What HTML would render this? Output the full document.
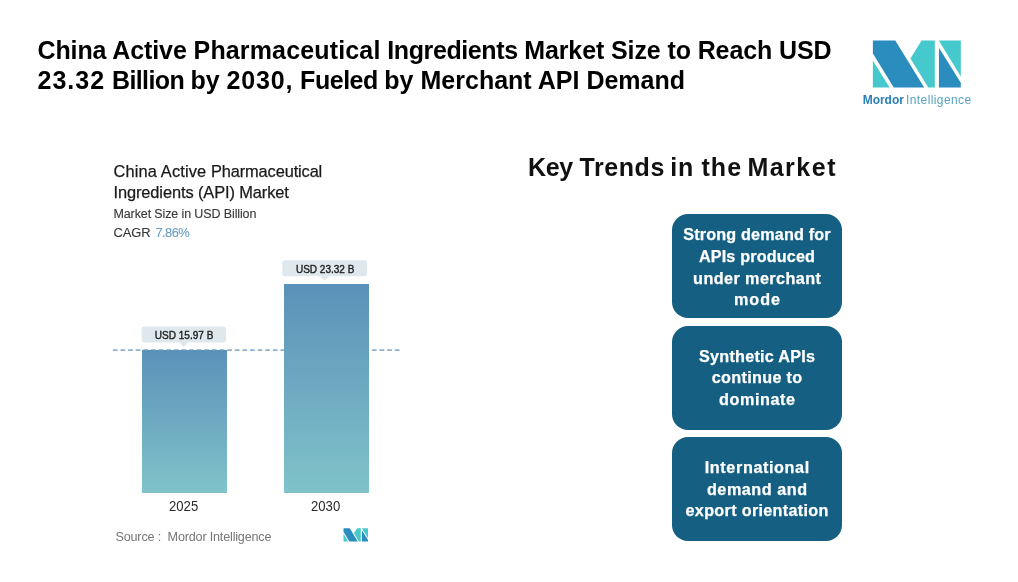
<!DOCTYPE html>
<html lang="en">
<head>
<meta charset="utf-8">
<title>China Active Pharmaceutical Ingredients Market</title>
<style>
  html, body { margin: 0; padding: 0; }
  body {
    width: 1018px; height: 582px; overflow: hidden; position: relative;
    background: #ffffff;
    font-family: "Liberation Sans", sans-serif;
  }
  .abs { position: absolute; white-space: nowrap; line-height: 1; }
  .title { left: 37.5px; font-size: 25px; font-weight: bold; color: #000; }
  .ct { left: 113.5px; font-size: 16.4px; color: #1a1a1a; -webkit-text-stroke: 0.25px #1a1a1a; }
  .sub { left: 113.5px; font-size: 12.5px; color: #383838; -webkit-text-stroke: 0.12px #383838; }
  .key { font-size: 25px; font-weight: bold; color: #111; width: 310px; height: 25px; }
  .key span { position: absolute; top: 0; }
  .box {
    position: absolute; left: 672px; width: 170px; height: 104px;
    background: #156082; border-radius: 16px;
  }
  .box span {
    position: absolute; left: 0; width: 170px; text-align: center;
    color: #fff; -webkit-text-stroke: 0.25px #fff; font-weight: bold; font-size: 16.2px; letter-spacing: 0.15px; line-height: 1; white-space: nowrap;
  }
  .bar { position: absolute; background: linear-gradient(to bottom, #5b91b9 0%, #80c3ca 100%); }
  .lbl { position: absolute; }
  .lbl span {
    position: absolute; left: 0.8px; right: 0; top: 3.9px; text-align: center;
    font-size: 11.4px; font-weight: normal; color: #1c1c1c; -webkit-text-stroke: 0.4px #1c1c1c;
    line-height: 1; white-space: nowrap; transform: scaleX(0.88); transform-origin: 50% 50%;
  }
    .yr { font-size: 14.5px; color: #2a2a2a; transform: scaleX(0.905); transform-origin: 0 50%; }
  .src { font-size: 12.6px; color: #767676; }
</style>
</head>
<body>

<!-- Title -->
<div class="abs title" id="t1" style="top:38px;letter-spacing:-0.107px;">China Active <span style="letter-spacing:0.15px;">Pharmaceutical</span> <span style="letter-spacing:-0.4px;">Ingredients </span>Market Size to Reach USD</div>
<div class="abs title" id="t2" style="top:67.5px;letter-spacing:0.01px;"><span style="letter-spacing:1px;">23.32</span> <span style="letter-spacing:-0.62px;">Billion </span>by <span style="letter-spacing:0.8px;">2030,</span> <span style="letter-spacing:-0.47px;">Fueled </span>by Merchant API Demand</div>

<!-- Logo -->
<svg class="abs" id="logo" style="left:872px;top:40px;" width="90" height="49"><g transform="translate(0.90,0.50) scale(0.10317,0.10352) translate(-68,-65)">
  <polygon points="68,65 285,65 565,520 270,520 68,190" fill="#2b8cbe"/>
  <polygon points="68,260 230,520 68,520" fill="#45c9cd"/>
  <polygon points="540,65 668,65 668,520 605,520 432,240" fill="#45c9cd"/>
  <polygon points="708,134 920,474 920,520 708,520" fill="#2b8cbe"/>
  <polygon points="706,65 920,65 920,412" fill="#45c9cd"/>
</g></svg>
<div class="abs" id="logot" style="left:862.7px;top:93.7px;font-size:12px;letter-spacing:0.3px;word-spacing:-1.5px;"><b style="color:#2a7fb5;letter-spacing:-0.02px;">Mordor</b> <span style="color:#5aa2c4;letter-spacing:0.4px;">Intelligence</span></div>

<!-- Chart header -->
<div class="abs ct" id="c1" style="top:162.9px;"><span style="letter-spacing:0.14px;">China Active </span><span style="letter-spacing:-0.13px;">Pharmaceutical</span></div>
<div class="abs ct" id="c2" style="top:183.6px;letter-spacing:-0.1px;">Ingredients (API) Market</div>
<div class="abs sub" id="c3" style="top:207.8px;letter-spacing:-0.12px;">Market Size in USD Billion</div>
<div class="abs sub" id="c4" style="top:226.8px;font-size:12.9px;letter-spacing:-0.1px;">CAGR <span id="c4b" style="color:#6a9fc3;-webkit-text-stroke:0.1px #6a9fc3;margin-left:1.6px;letter-spacing:-0.55px;">7.86%</span></div>

<!-- Chart -->
<svg class="abs" style="left:112px;top:348px;" width="290" height="4"><line x1="0.9" y1="2.1" x2="288" y2="2.1" stroke="#8fb1cd" stroke-width="1.6" stroke-dasharray="4.7 2.918"/></svg>
<div class="bar" id="bar2" style="left:283.8px;top:284.2px;width:85.2px;height:208.5px;"></div>
<div class="bar" id="bar1" style="left:142px;top:350px;width:85px;height:142.7px;"></div>
<svg class="abs" style="left:142px;top:348px;" width="85" height="4"><line x1="-29.1" y1="2.2" x2="85" y2="2.2" stroke="#6fa0c4" stroke-width="1" stroke-dasharray="4.7 2.918" opacity="0.7"/></svg>

<div class="lbl" id="l1" style="left:141px;top:326px;width:85.0px;height:16.2px;"><svg width="87" height="23" style="position:absolute;left:0;top:0;"><path transform="translate(0.70,0.40)" d="M3,0 H81.3 Q84.3,0 84.3,3 V13.2 Q84.3,16.2 81.3,16.2 H46.55 L42.15,20.5 L37.75,16.2 H3 Q0,16.2 0,13.2 V3 Q0,0 3,0 Z" fill="#dfe8ec"/></svg><span>USD 15.97 B</span></div>
<div class="lbl" id="l2" style="left:282px;top:260px;width:85.1px;height:16.0px;"><svg width="87" height="23" style="position:absolute;left:0;top:0;"><path transform="translate(0.30,0.30)" d="M3,0 H81.8 Q84.8,0 84.8,3 V13.0 Q84.8,16.0 81.8,16.0 H46.8 L42.4,20.3 L38.0,16.0 H3 Q0,16.0 0,13.0 V3 Q0,0 3,0 Z" fill="#dfe8ec"/></svg><span>USD 23.32 B</span></div>

<div class="abs yr" id="y1" style="left:169.4px;top:499px;">2025</div>
<div class="abs yr" id="y2" style="left:311.4px;top:499px;">2030</div>

<div class="abs src" id="src" style="left:115.5px;top:531.4px;letter-spacing:-0.18px;">Source :&nbsp; Mordor Intelligence</div>
<svg class="abs" id="logo2" style="left:343px;top:528px;" width="27" height="15"><g transform="translate(0.50,0.20) scale(0.02876,0.02901) translate(-68,-65)">
  <polygon points="68,65 285,65 565,520 270,520 68,190" fill="#2b8cbe"/>
  <polygon points="68,260 230,520 68,520" fill="#45c9cd"/>
  <polygon points="540,65 668,65 668,520 605,520 432,240" fill="#45c9cd"/>
  <polygon points="708,134 920,474 920,520 708,520" fill="#2b8cbe"/>
  <polygon points="706,65 920,65 920,412" fill="#45c9cd"/>
</g></svg>

<!-- Key trends -->
<div class="abs key" id="key" style="left:528px;top:154.5px;"><span style="left:0;letter-spacing:-0.3px;">Key</span> <span style="left:51.4px;letter-spacing:0.6px;">Trends</span> <span style="left:142.2px;letter-spacing:0.9px;">in</span> <span style="left:173.4px;letter-spacing:1.1px;">the</span> <span style="left:219.4px;letter-spacing:1.5px;">Market</span></div>

<div class="box" id="b1" style="top:214px;">
  <span style="top:12.1px;">Strong demand for</span>
  <span style="top:34.1px;">APIs produced</span>
  <span style="top:55.8px;letter-spacing:0.42px;padding-left:0.42px;box-sizing:border-box;">under merchant</span>
  <span style="top:77.3px;letter-spacing:1.00px;padding-left:1.00px;box-sizing:border-box;">mode</span>
</div>
<div class="box" id="b2" style="top:325.8px;">
  <span style="top:22.2px;letter-spacing:0.26px;padding-left:0.26px;box-sizing:border-box;">Synthetic APIs</span>
  <span style="top:43.6px;letter-spacing:0.32px;padding-left:0.32px;box-sizing:border-box;">continue to</span>
  <span style="top:65.0px;letter-spacing:0.57px;padding-left:0.57px;box-sizing:border-box;">dominate</span>
</div>
<div class="box" id="b3" style="top:437.3px;">
  <span style="top:22.2px;letter-spacing:0.61px;padding-left:0.61px;box-sizing:border-box;">International</span>
  <span style="top:43.6px;letter-spacing:0.53px;padding-left:0.53px;box-sizing:border-box;">demand and</span>
  <span style="top:65.0px;letter-spacing:0.31px;padding-left:0.31px;box-sizing:border-box;">export orientation</span>
</div>

</body>
</html>
